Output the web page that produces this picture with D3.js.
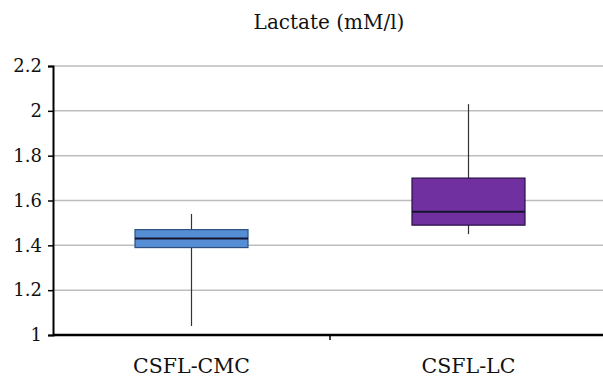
<!DOCTYPE html>
<html>
<head>
<meta charset="utf-8">
<script src="https://cdn.jsdelivr.net/npm/d3@7"></script>
<style>
  body { margin: 0; background: #fff; }
</style>
</head>
<body>
<div id="chart"></div>
<script>
// data
const groups = ['CSFL-CMC', 'CSFL-LC'];
const whiskerLow = [1.04, 1.45];
const q1 = [1.39, 1.49];
const median = [1.43, 1.55];
const q3 = [1.47, 1.70];
const whiskerHigh = [1.54, 2.03];
const yTicks = [1, 1.2, 1.4, 1.6, 1.8, 2, 2.2];
const title = 'Lactate (mM/l)';

const fills = ['#558ed5', '#7030a0'];
const strokes = ['#2d4f80', '#2a1045'];
const font = '"DejaVu Serif", "Liberation Serif", serif';

const width = 603, height = 379;
const margin = { top: 66, right: -4, bottom: 44, left: 53 };
const innerW = width - margin.left - margin.right;
const innerH = height - margin.top - margin.bottom;

const svg = d3.select('#chart')
  .append('svg')
  .attr('width', width)
  .attr('height', height);

svg.append('text')
  .attr('x', 329)
  .attr('y', 29)
  .attr('text-anchor', 'middle')
  .style('font-family', font)
  .style('font-size', '20px')
  .style('fill', '#111')
  .text(title);

const g = svg.append('g')
  .attr('transform', `translate(${margin.left},${margin.top})`);

const x = d3.scaleBand()
  .domain(groups)
  .range([0, innerW]);

const y = d3.scaleLinear()
  .domain([1, 2.2])
  .range([innerH, 0]);

// gridlines
g.append('g')
  .selectAll('line')
  .data(yTicks.filter(t => t > 1))
  .enter().append('line')
  .attr('x1', 0)
  .attr('x2', innerW)
  .attr('y1', d => y(d))
  .attr('y2', d => y(d))
  .attr('stroke', '#bdbdbd')
  .attr('stroke-width', 1.5);

// y axis
g.append('g')
  .call(d3.axisLeft(y).tickValues(yTicks).tickFormat(d3.format('~g')).tickSize(5).tickPadding(6))
  .call(a => a.select('.domain').attr('stroke', '#000').attr('stroke-width', 2))
  .call(a => a.selectAll('.tick line').attr('stroke', '#000').attr('stroke-width', 1.5))
  .call(a => a.selectAll('.tick text').style('font-family', font).style('font-size', '18px').style('fill', '#111'));

const boxW = 113;
const idx = groups.map((d, i) => i);
const cx = i => x(groups[i]) + x.bandwidth() / 2;

// whiskers
g.selectAll('.whisker')
  .data(idx)
  .enter().append('line')
  .attr('class', 'whisker')
  .attr('x1', cx)
  .attr('x2', cx)
  .attr('y1', i => y(whiskerLow[i]))
  .attr('y2', i => y(whiskerHigh[i]))
  .attr('stroke', '#333')
  .attr('stroke-width', 1.2);

// boxes
g.selectAll('.box')
  .data(idx)
  .enter().append('rect')
  .attr('class', 'box')
  .attr('x', i => cx(i) - boxW / 2)
  .attr('y', i => y(q3[i]))
  .attr('width', boxW)
  .attr('height', i => y(q1[i]) - y(q3[i]))
  .attr('fill', i => fills[i])
  .attr('stroke', i => strokes[i])
  .attr('stroke-width', 1.2);

// medians
g.selectAll('.median')
  .data(idx)
  .enter().append('line')
  .attr('class', 'median')
  .attr('x1', i => cx(i) - boxW / 2)
  .attr('x2', i => cx(i) + boxW / 2)
  .attr('y1', i => y(median[i]))
  .attr('y2', i => y(median[i]))
  .attr('stroke', '#141430')
  .attr('stroke-width', 2);

// x axis
g.append('g')
  .attr('transform', `translate(0,${innerH})`)
  .call(d3.axisBottom(x).tickSize(0).tickPadding(0))
  .call(a => a.select('.domain').remove())
  .call(a => a.selectAll('.tick text')
    .attr('y', 38).attr('dy', null)
    .style('font-family', font).style('font-size', '20.5px').style('fill', '#111'));

g.append('line')
  .attr('x1', 0)
  .attr('x2', innerW)
  .attr('y1', innerH)
  .attr('y2', innerH)
  .attr('stroke', '#000')
  .attr('stroke-width', 2.5);

// category separator tick
g.append('line')
  .attr('x1', x(groups[1]))
  .attr('x2', x(groups[1]))
  .attr('y1', innerH)
  .attr('y2', innerH + 5)
  .attr('stroke', '#000')
  .attr('stroke-width', 1.5);
</script>
</body>
</html>
